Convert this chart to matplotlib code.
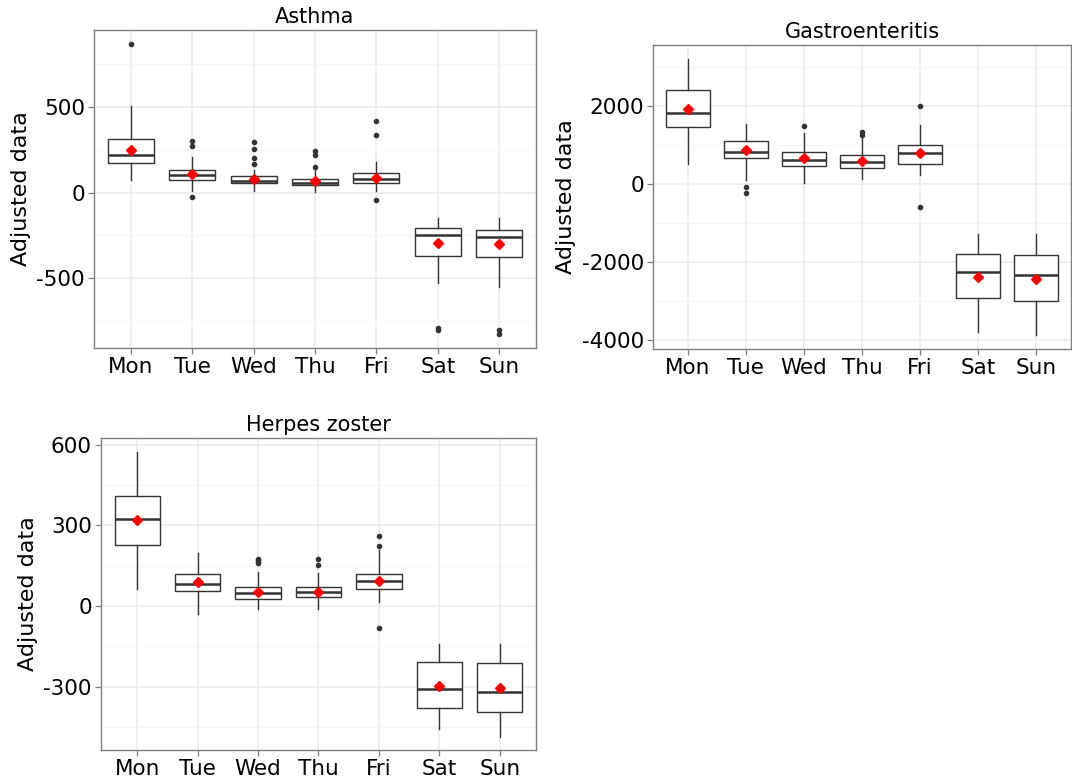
import matplotlib
matplotlib.use("Agg")
from matplotlib import pyplot as plt

# DATA
days = ["Mon", "Tue", "Wed", "Thu", "Fri", "Sat", "Sun"]

# Asthma
asthma_whislo = [74, 10, 10, 2, 10, -527, -550]
asthma_q1 = [171, 72, 54, 43, 54, -368, -378]
asthma_med = [219, 101, 68, 58, 78, -250, -256]
asthma_q3 = [310, 130, 99, 81, 114, -207, -217]
asthma_whishi = [504, 209, 132, 132, 180, -147, -151]
asthma_mean = [246, 107, 79, 66, 87, -295, -300]
asthma_fliers = [[862], [300, 271, -27], [295, 252, 203, 169], [242, 217, 151],
                 [419, 335, -43], [-789, -802], [-798, -822]]

# Gastroenteritis
gastro_whislo = [514, 111, 34, 137, 223, -3803, -3889]
gastro_q1 = [1465, 668, 463, 411, 522, -2938, -2998]
gastro_med = [1816, 822, 608, 548, 788, -2270, -2330]
gastro_q3 = [2415, 1096, 805, 737, 985, -1790, -1816]
gastro_whishi = [3195, 1542, 1310, 1182, 1507, -1285, -1285]
gastro_mean = [1910, 865, 651, 591, 779, -2381, -2433]
gastro_fliers = [[], [-86, -231], [1473], [1336, 1250], [1996, -591], [], []]

# Herpes zoster
herpes_whislo = [64, -31, -10, -9, 17, -456, -485]
herpes_q1 = [229, 58, 26, 35, 62, -379, -392]
herpes_med = [323, 84, 48, 52, 93, -308, -319]
herpes_q3 = [410, 121, 71, 72, 121, -207, -210]
herpes_whishi = [573, 198, 128, 124, 208, -142, -142]
herpes_mean = [319, 89, 51, 54, 95, -298, -306]
herpes_fliers = [[], [], [177, 170, 165, 159], [175, 152], [261, 225, -83], [], []]

BORDER = "#7f7f7f"
GRID = "#ebebeb"
BOXC = "#333333"


def draw_panel(ax, title, whislo, q1, med, q3, whishi, mean, fliers,
               ylim, major, minor):
    """Draws one ggplot-like boxplot panel"""
    stats = []
    for i in range(len(days)):
        stats.append({"whislo": whislo[i], "q1": q1[i], "med": med[i],
                      "q3": q3[i], "whishi": whishi[i], "fliers": fliers[i],
                      "mean": mean[i], "label": days[i]})
    pos = list(range(1, len(days) + 1))
    ax.bxp(stats, positions=pos, widths=0.75, showcaps=False, showmeans=True,
           patch_artist=True,
           boxprops=dict(facecolor="white", edgecolor=BOXC, linewidth=1.0),
           medianprops=dict(color=BOXC, linewidth=1.8),
           whiskerprops=dict(color=BOXC, linewidth=1.0),
           flierprops=dict(marker="o", markerfacecolor=BOXC, markeredgecolor=BOXC,
                           markersize=3.0),
           meanprops=dict(marker="D", markerfacecolor="red", markeredgecolor="red",
                          markersize=5.5),
           zorder=3)

    ax.set_xlim(0.4, 7.6)
    ax.set_ylim(*ylim)
    ax.set_xticks(pos)
    ax.set_xticklabels(days)
    ax.set_yticks(major)
    ax.set_yticklabels([str(v) for v in major])
    ax.set_yticks(minor, minor=True)
    ax.set_xticks([], minor=True)

    # grid
    ax.set_axisbelow(True)
    ax.grid(which="major", color=GRID, linewidth=1.1)
    ax.grid(which="minor", axis="y", color="#f4f4f4", linewidth=0.8)
    ax.tick_params(axis="y", which="minor", length=0)
    ax.tick_params(which="major", length=4, color=BORDER, labelsize=15.5,
                   labelcolor="black", width=0.9, pad=2.5)

    for s in ax.spines.values():
        s.set_color(BORDER)
        s.set_linewidth(1.0)

    ax.set_title(title, fontsize=15, pad=5)
    ax.set_ylabel("Adjusted data", fontsize=16, labelpad=4)


fig = plt.figure(figsize=(10.72, 7.78), dpi=100)

ax1 = fig.add_axes([0.0877, 0.5527, 0.4123, 0.4087])
draw_panel(ax1, "Asthma", asthma_whislo, asthma_q1, asthma_med, asthma_q3,
           asthma_whishi, asthma_mean, asthma_fliers,
           (-905, 946), [-500, 0, 500], [-750, -250, 250, 750])

ax2 = fig.add_axes([0.6091, 0.5514, 0.3899, 0.3907])
draw_panel(ax2, "Gastroenteritis", gastro_whislo, gastro_q1, gastro_med, gastro_q3,
           gastro_whishi, gastro_mean, gastro_fliers,
           (-4240, 3563), [-4000, -2000, 0, 2000], [-3000, -1000, 1000, 3000])

ax3 = fig.add_axes([0.0942, 0.036, 0.4058, 0.401])
draw_panel(ax3, "Herpes zoster", herpes_whislo, herpes_q1, herpes_med, herpes_q3,
           herpes_whishi, herpes_mean, herpes_fliers,
           (-535, 625), [-300, 0, 300, 600], [-450, -150, 150, 450])

fig.savefig("out.png", dpi=100)
